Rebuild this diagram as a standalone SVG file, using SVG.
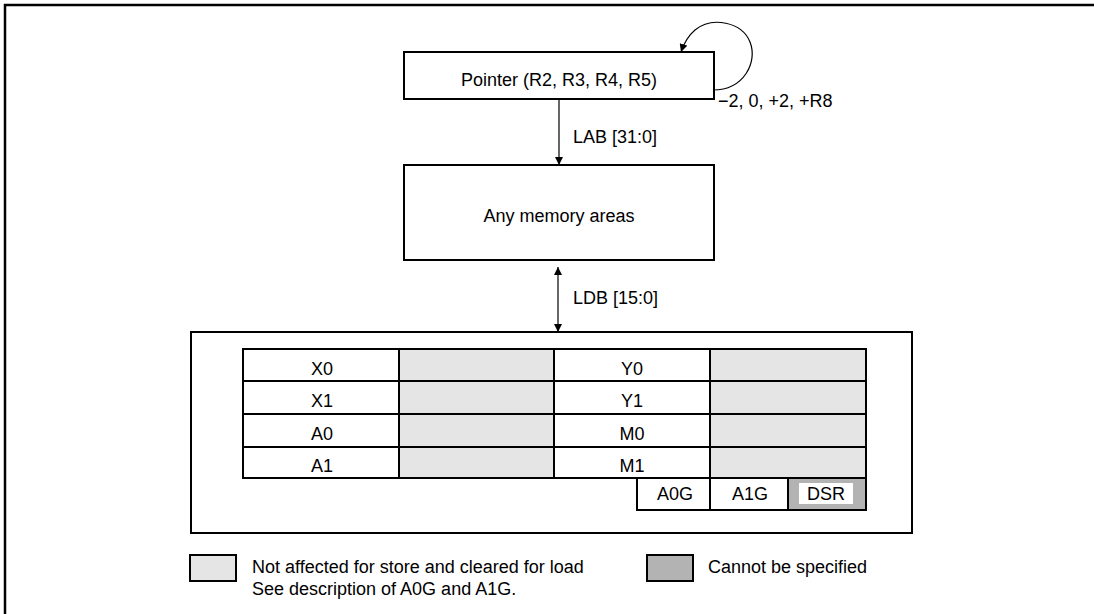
<svg xmlns="http://www.w3.org/2000/svg" width="1094" height="614" viewBox="0 0 1094 614">
<style>
text{font-family:"Liberation Sans",Arial,sans-serif;font-size:18px;fill:#000}
.c{text-anchor:middle}
.box{fill:#fff;stroke:#000;stroke-width:2}
.lt{fill:#e5e5e5;stroke:#000;stroke-width:2}
.dk{fill:#b3b3b3;stroke:#000;stroke-width:2}
.w{fill:#fff;stroke:#000;stroke-width:2}
.ln{fill:none;stroke:#000;stroke-width:1.2}
</style>
<defs>
<marker id="ah" viewBox="0 0 10 10" refX="10" refY="5" markerWidth="8" markerHeight="8" markerUnits="userSpaceOnUse" orient="auto-start-reverse">
<path d="M0,0 L10,5 L0,10 z" fill="#000"/>
</marker>
</defs>
<rect width="1094" height="614" fill="#fff"/>
<path d="M5,614 V5 H1094" fill="none" stroke="#000" stroke-width="2.5"/>

<g id="connectors">
<path class="ln" d="M713,90 C744,90 758,62 750,42 C742,22 712,16 695,30 C688,36 684,43 681,52" marker-end="url(#ah)"/>
<line class="ln" x1="559" y1="99" x2="559" y2="165" marker-end="url(#ah)"/>
<line class="ln" x1="558" y1="267" x2="558" y2="332" marker-start="url(#ah)" marker-end="url(#ah)"/>
<text x="718" y="107">−2, 0, +2, +R8</text>
<text x="573" y="143">LAB [31:0]</text>
<text x="573" y="304">LDB [15:0]</text>
</g>

<g id="pointer">
<rect class="box" x="404" y="52" width="310" height="47"/>
<text class="c" x="559" y="86">Pointer (R2, R3, R4, R5)</text>
</g>

<g id="memory">
<rect class="box" x="404" y="165" width="310" height="95"/>
<text class="c" x="559" y="222">Any memory areas</text>
</g>

<g id="registers">
<rect class="box" x="191" y="332" width="721" height="201"/>
<rect class="w" x="243" y="349" width="156" height="32"/>
<rect class="lt" x="399" y="349" width="155" height="32"/>
<rect class="w" x="554" y="349" width="156" height="32"/>
<rect class="lt" x="710" y="349" width="156" height="32"/>
<rect class="w" x="243" y="381" width="156" height="33"/>
<rect class="lt" x="399" y="381" width="155" height="33"/>
<rect class="w" x="554" y="381" width="156" height="33"/>
<rect class="lt" x="710" y="381" width="156" height="33"/>
<rect class="w" x="243" y="414" width="156" height="33"/>
<rect class="lt" x="399" y="414" width="155" height="33"/>
<rect class="w" x="554" y="414" width="156" height="33"/>
<rect class="lt" x="710" y="414" width="156" height="33"/>
<rect class="w" x="243" y="447" width="156" height="31"/>
<rect class="lt" x="399" y="447" width="155" height="31"/>
<rect class="w" x="554" y="447" width="156" height="31"/>
<rect class="lt" x="710" y="447" width="156" height="31"/>
<rect class="w" x="637" y="478" width="73" height="32"/>
<rect class="w" x="710" y="478" width="78" height="32"/>
<rect class="dk" x="788" y="478" width="78" height="32"/>
<rect x="799" y="483" width="54" height="21" fill="#fff"/>
<text class="c" x="322" y="375">X0</text>
<text class="c" x="322" y="407">X1</text>
<text class="c" x="322" y="440">A0</text>
<text class="c" x="322" y="472">A1</text>
<text class="c" x="632" y="375">Y0</text>
<text class="c" x="632" y="407">Y1</text>
<text class="c" x="632" y="440">M0</text>
<text class="c" x="632" y="472">M1</text>
<text class="c" x="675" y="500">A0G</text>
<text class="c" x="750" y="500">A1G</text>
<text class="c" x="826" y="500">DSR</text>
</g>

<g id="legend">
<rect class="lt" x="190" y="555" width="46" height="26"/>
<text x="252" y="573">Not affected for store and cleared for load</text>
<text x="252" y="595">See description of A0G and A1G.</text>
<rect class="dk" x="647" y="555" width="46" height="26"/>
<text x="708" y="573">Cannot be specified</text>
</g>
</svg>
